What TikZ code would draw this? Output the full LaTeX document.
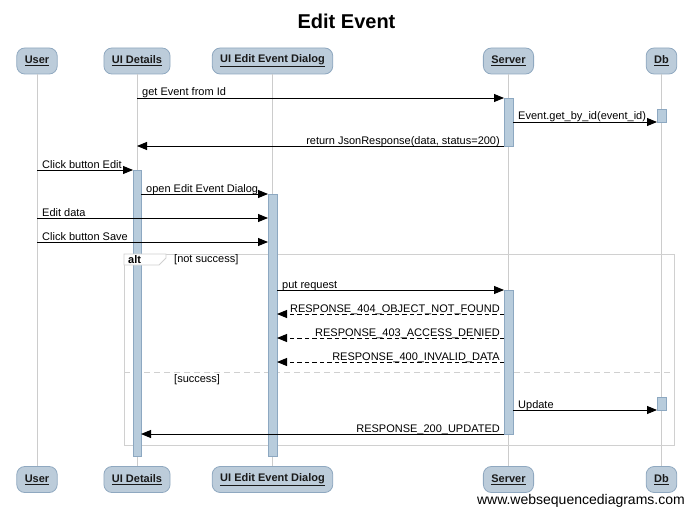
\documentclass[tikz,border=0pt]{standalone}
\usepackage{fontspec}
\setmainfont{Liberation Sans}
\usetikzlibrary{arrows.meta}
\definecolor{headfill}{HTML}{BCCCDA}
\definecolor{headdraw}{HTML}{8FA8C0}
\definecolor{actfill}{HTML}{B8CCDC}
\definecolor{actdraw}{HTML}{8DA8C1}
\definecolor{lifegray}{HTML}{CCCCCC}
\definecolor{framegray}{HTML}{D0D0D0}
\tikzset{
  head/.style={draw=headdraw, fill=headfill, rounded corners=8pt, line width=0.8pt,
    minimum height=26pt, inner xsep=8pt, inner ysep=0pt,
    font=\fontsize{11}{13}\selectfont\bfseries, text=black!90},
  life/.style={draw=lifegray, line width=0.8pt},
  act/.style={draw=actdraw, fill=actfill, line width=0.6pt},
  msg/.style={-{Triangle[length=10pt,width=8pt]}, line width=0.9pt},
  rmsg/.style={msg, dashed, dash pattern=on 4.5pt off 3pt},
  lbl/.style={font=\fontsize{11}{13}\selectfont, inner sep=0pt},
  frameline/.style={draw=framegray, line width=0.9pt}
}
\begin{document}
\begin{tikzpicture}[x=1pt,y=-1pt]
\useasboundingbox (0,0) rectangle (693,516);
% title
\node[font=\fontsize{20}{24}\selectfont\bfseries] (title) at (346.5,21) {Edit Event};
% heads top
\node[head] (uT) at (37,61) {\underline{User}};
\node[head] (dT) at (137,61) {\underline{UI Details}};
\node[head] (eT) at (272.5,61) {\underline{UI Edit Event Dialog}};
\node[head] (sT) at (508.5,61) {\underline{Server}};
\node[head] (bT) at (661.5,61) {\underline{Db}};
% heads bottom
\node[head] (uB) at (37,479.5) {\underline{User}};
\node[head] (dB) at (137,479.5) {\underline{UI Details}};
\node[head] (eB) at (272.5,479.5) {\underline{UI Edit Event Dialog}};
\node[head] (sB) at (508.5,479.5) {\underline{Server}};
\node[head] (bB) at (661.5,479.5) {\underline{Db}};
% lifelines
\draw[life] (uT) -- (uB);
\draw[life] (dT) -- (dB);
\draw[life] (eT) -- (eB);
\draw[life] (sT) -- (sB);
\draw[life] (bT) -- (bB);
% alt frame
\draw[frameline] (124,254) rectangle (674,445);
\draw[framegray, line width=0.9pt, dash pattern=on 6pt off 4pt] (124,372) -- (674,372);
\node[lbl, anchor=west] (c1) at (174,260) {[not success]};
\node[lbl, anchor=west] (c2) at (174,380) {[success]};
% activations
\draw[act] (504,98) rectangle (513,146);
\draw[act] (657,109) rectangle (666,122);
\draw[act] (133,170) rectangle (141,456);
\draw[act] (268,194) rectangle (277,456);
\draw[act] (504,290) rectangle (513,434);
\draw[act] (657,397) rectangle (666,410);
% alt tab (over the activation bar)
\draw[frameline, fill=white] (124,254) -- (166,254) -- (166,258) -- (159,265) -- (124,265) -- cycle;
\node[lbl, font=\fontsize{11}{13}\selectfont\bfseries, anchor=west] (alt) at (128,260) {alt};
% endpoints
\coordinate (d1) at (137,98);   \coordinate (s1) at (504,98);
\coordinate (s2) at (513,122);  \coordinate (b2) at (657,122);
\coordinate (s3) at (504,146);  \coordinate (d3) at (137,146);
\coordinate (u4) at (37,170);   \coordinate (d4) at (133,170);
\coordinate (d5) at (141,194);  \coordinate (e5) at (268,194);
\coordinate (u6) at (37,218);   \coordinate (e6) at (268,218);
\coordinate (u7) at (37,242);   \coordinate (e7) at (268,242);
\coordinate (e8) at (277,290);  \coordinate (s8) at (504,290);
\coordinate (s9) at (504,314);  \coordinate (e9) at (277,314);
\coordinate (s10) at (504,338); \coordinate (e10) at (277,338);
\coordinate (s11) at (504,362); \coordinate (e11) at (277,362);
\coordinate (s12) at (513,410); \coordinate (b12) at (657,410);
\coordinate (s13) at (504,434); \coordinate (d13) at (141,434);
% messages
\draw[msg] (d1) -- (s1);
\node[lbl, anchor=base west] (l1) at (142,96) {get Event from Id};
\draw[msg] (s2) -- (b2);
\node[lbl, anchor=base west] (l2) at (518,120) {Event.get\_by\_id(event\_id)};
\draw[msg] (s3) -- (d3);
\node[lbl, anchor=base east] (l3) at (500,144) {return JsonResponse(data, status=200)};
\draw[msg] (u4) -- (d4);
\node[lbl, anchor=base west] (l4) at (42,168) {Click button Edit};
\draw[msg] (d5) -- (e5);
\node[lbl, anchor=base west] (l5) at (146,192) {open Edit Event Dialog};
\draw[msg] (u6) -- (e6);
\node[lbl, anchor=base west] (l6) at (42,216) {Edit data};
\draw[msg] (u7) -- (e7);
\node[lbl, anchor=base west] (l7) at (42,240) {Click button Save};
\draw[msg] (e8) -- (s8);
\node[lbl, anchor=base west] (l8) at (282,288) {put request};
\draw[rmsg] (s9) -- (e9);
\node[lbl, anchor=base east] (l9) at (500,312) {RESPONSE\_404\_OBJECT\_NOT\_FOUND};
\draw[rmsg] (s10) -- (e10);
\node[lbl, anchor=base east] (l10) at (500,336) {RESPONSE\_403\_ACCESS\_DENIED};
\draw[rmsg] (s11) -- (e11);
\node[lbl, anchor=base east] (l11) at (500,360) {RESPONSE\_400\_INVALID\_DATA};
\draw[msg] (s12) -- (b12);
\node[lbl, anchor=base west] (l12) at (518,408) {Update};
\draw[msg] (s13) -- (d13);
\node[lbl, anchor=base east] (l13) at (500,432) {RESPONSE\_200\_UPDATED};
% footer
\node[font=\fontsize{14}{16}\selectfont, anchor=east, inner sep=0pt] (foot) at (685,501) {www.websequencediagrams.com};
\end{tikzpicture}
\end{document}
